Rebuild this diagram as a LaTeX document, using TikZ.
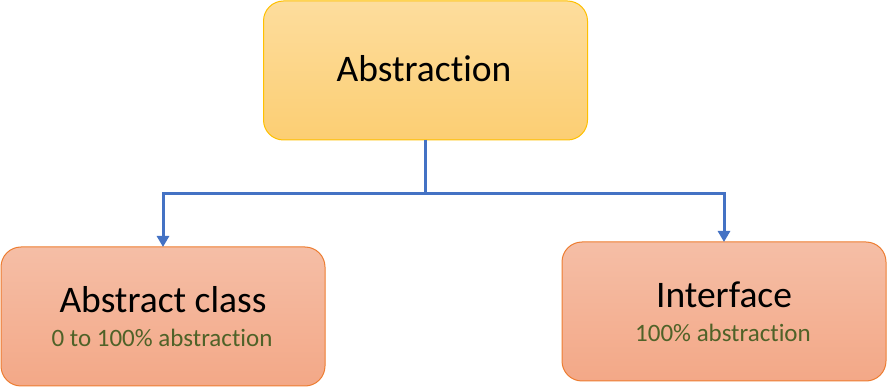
\documentclass[tikz,border=0pt]{standalone}
\usepackage{fontspec}
\setmainfont{Carlito}[Ligatures=NoCommon]
\usetikzlibrary{arrows.meta}
\definecolor{conncol}{RGB}{68,114,196}
\definecolor{subgreen}{RGB}{79,98,40}
\definecolor{topA}{RGB}{253,221,157}
\definecolor{topB}{RGB}{252,206,115}
\definecolor{topBorder}{RGB}{255,192,0}
\definecolor{botA}{RGB}{245,190,166}
\definecolor{botB}{RGB}{243,168,135}
\definecolor{botBorder}{RGB}{237,125,49}
\tikzset{
  box/.style={rounded corners=20pt, minimum width=324pt, minimum height=139pt, inner sep=0pt, outer sep=0pt, line width=1pt},
  topbox/.style={box, draw=topBorder, top color=topA, bottom color=topB},
  childbox/.style={box, draw=botBorder, top color=botA, bottom color=botB},
  maintext/.style={anchor=base, inner sep=0pt, font=\fontsize{37.5}{44}\selectfont},
  subtext/.style={anchor=base, inner sep=0pt, text=subgreen, font=\fontsize{25}{30}\selectfont},
  conn/.style={draw=conncol, line width=3pt, -{Triangle[length=11pt,width=12pt]}},
  connplain/.style={draw=conncol, line width=3pt}
}
\begin{document}
\begin{tikzpicture}[x=1pt,y=-1pt]
\useasboundingbox (0,0) rectangle (887,387);
\node[topbox] (abs) at (425.5,70.5) {};
\node[maintext] (absT) at (424,82) {Abstraction};
\node[childbox] (ac) at (163,316.5) {};
\node[maintext] (acT) at (163,313) {Abstract class};
\node[subtext] (acS) at (162,346.5) {0 to 100\% abstraction};
\node[childbox] (if) at (724,311.5) {};
\node[maintext] (ifT) at (724,308) {Interface};
\node[subtext] (ifS) at (723,341.5) {100\% abstraction};
\coordinate (j) at (425.5,193.5);
\draw[connplain] (abs.south) -- (j);
\draw[conn] (j) -| (ac.north);
\draw[conn] (j) -| (if.north);
\end{tikzpicture}
\end{document}
